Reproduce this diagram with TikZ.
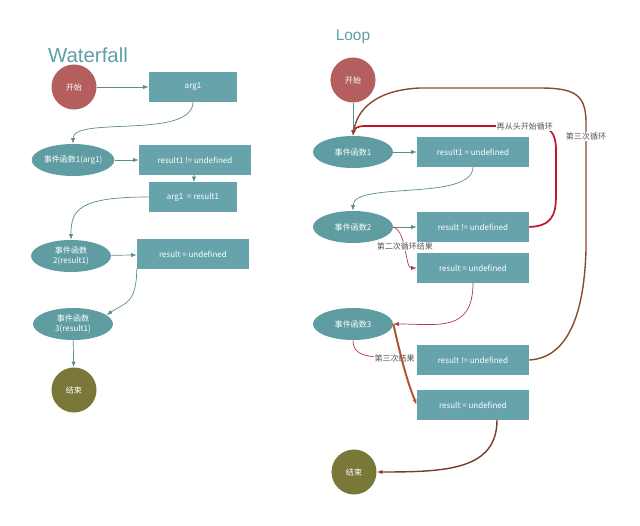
\documentclass[tikz,border=0pt]{standalone}
\usepackage{fontspec}
\setmainfont{Liberation Sans}
\newfontfamily\zhfont{Noto Sans CJK SC}
\usepackage{xcolor}
\definecolor{FlowTeal}{HTML}{67A3AB}
\definecolor{EventTeal}{HTML}{5F9DA3}
\definecolor{TitleTeal}{HTML}{5E9FA7}
\definecolor{StartRed}{HTML}{B45E5E}
\definecolor{EndOlive}{HTML}{7A7838}
\definecolor{LinkGray}{HTML}{5E8B8C}
\definecolor{LoopRed}{HTML}{C0142C}
\definecolor{ThinRed}{HTML}{B4384A}
\definecolor{LoopBrown}{HTML}{8A4B2C}
\definecolor{RustOrange}{HTML}{B0552C}
\definecolor{DarkBrown}{HTML}{7A3A2C}
\definecolor{LabelGray}{HTML}{555555}
\usetikzlibrary{arrows.meta,positioning,shapes.geometric}

\begin{document}
\begin{tikzpicture}[x=0.025cm,y=-0.025cm,>={Latex[length=4pt,width=3pt]},every node/.style={font=\zhfont\fontsize{5.7}{6.8}\selectfont, align=center}, flowbox/.style={fill=FlowTeal, text=white, minimum height=0.725cm, inner sep=0pt}, evt/.style={ellipse, fill=EventTeal, text=white, minimum width=2cm, minimum height=0.8cm, inner sep=0pt}, terminal/.style={circle, text=white, minimum size=1.125cm, inner sep=0pt}, flowtitle/.style={font=\fontsize{14.5}{16}\selectfont, text=TitleTeal}, edgelabel/.style={fill=white, text=LabelGray, inner sep=0.6pt}, link/.style={->, LinkGray, line width=0.5pt}]
        \useasboundingbox (0,0) rectangle (640,526);
        \node[flowtitle] (wtitle) at (88,55) {Waterfall};
        \node[terminal, fill=StartRed] (start1) at (74,87) {开始};
        \node[flowbox, minimum width=2.2cm] (arg) at (193,87) {arg1};
        \node[evt] (evtA) at (73,160) {事件函数1(arg1)};
        \node[flowbox, minimum width=2.8cm] (chkA) at (195,160) {result1 != undefined};
        \node[flowbox, minimum width=2.2cm] (assign) at (193,197) {arg1 \ = result1};
        \node[evt] (evtB) at (71,256) {事件函数\\2(result1)};
        \node[flowbox, minimum width=2.8cm] (resA) at (193,254) {result = undefined};
        \node[evt] (evtC) at (73,324) {事件函数\\3(result1)};
        \node[terminal, fill=EndOlive] (endA) at (74,390) {结束};
        \draw[link] (start1) -- (arg);
        \draw[link] (arg.south) .. controls +(0,38) and +(0,-28) .. (evtA.north);
        \draw[link] (evtA) -- (chkA);
        \draw[link] (chkA) -- (assign);
        \draw[link] (assign.west) .. controls +(-70,0) and +(0,-30) .. (evtB.north);
        \draw[link] (evtB) -- (resA);
        \draw[link] (resA.south west) .. controls +(0,35) and +(18,-12) .. (evtC.15);
        \draw[link] (evtC) -- (endA);
        \node[flowtitle, font=\fontsize{11}{13}\selectfont] (ltitle) at (353,37) {Loop};
        \node[terminal, fill=StartRed] (start2) at (353,80) {开始};
        \node[evt] (evt1) at (353,152) {事件函数1};
        \node[flowbox, minimum width=2.8cm] (res1) at (473,152) {result1 = undefined};
        \node[evt] (evt2) at (353,227) {事件函数2};
        \node[flowbox, minimum width=2.8cm] (chk2) at (473,227) {result != undefined};
        \node[flowbox, minimum width=2.8cm] (res2) at (473,268) {result = undefined};
        \node[evt] (evt3) at (353,324) {事件函数3};
        \node[flowbox, minimum width=2.8cm] (chk3) at (473,360) {result != undefined};
        \node[flowbox, minimum width=2.8cm] (res3) at (473,405) {result = undefined};
        \node[terminal, fill=EndOlive] (end2) at (354,472) {结束};
        \draw[link] (start2) -- (evt1);
        \draw[link] (evt1) -- (res1);
        \draw[link] (res1.south) .. controls +(0,35) and +(0,-30) .. (evt2.north);
        \draw[link] (evt2) -- (chk2);
        \draw[->, ThinRed, line width=0.5pt] (evt2.east) .. controls +(14,5) and +(-12,0) .. node[edgelabel, pos=0.45] {第二次循环结果} (res2.west);
        \draw[->, ThinRed, line width=0.5pt] (res2.south) .. controls +(0,50) and +(45,0) .. (evt3.east);
        \draw[->, ThinRed, line width=0.5pt] (evt3.south) .. controls +(0,20) and +(-40,-4) .. node[edgelabel, pos=0.8] {第三次结果} (chk3.west);
        \draw[->, RustOrange, line width=1.4pt] (evt3.east) .. controls +(8,35) and +(-10,-25) .. (res3.west);
        \draw[->, DarkBrown, line width=1pt] ([xshift=0.6cm]res3.south) .. controls +(0,50) and +(70,0) .. (end2.east);
        \draw[->, LoopRed, line width=1.2pt] (chk2.east) .. controls (552,226) and (556,215) .. (556,195) -- (556,150) .. controls (556,133) and (550,126) .. (535,126) -- node[edgelabel, pos=0.06] {再从头开始循环} (365,126) .. controls (357,126) and (354,129) .. (evt1.north);
        \draw[->, LoopBrown, line width=1pt] (chk3.east) .. controls (565,358) and (584,320) .. (586,250) -- node[edgelabel, pos=0.87] {第三次循环} (586,120) .. controls (585,95) and (575,88) .. (540,88) -- (420,88) .. controls (375,90) and (357,110) .. (evt1.north);
    \end{tikzpicture}
\end{document}
